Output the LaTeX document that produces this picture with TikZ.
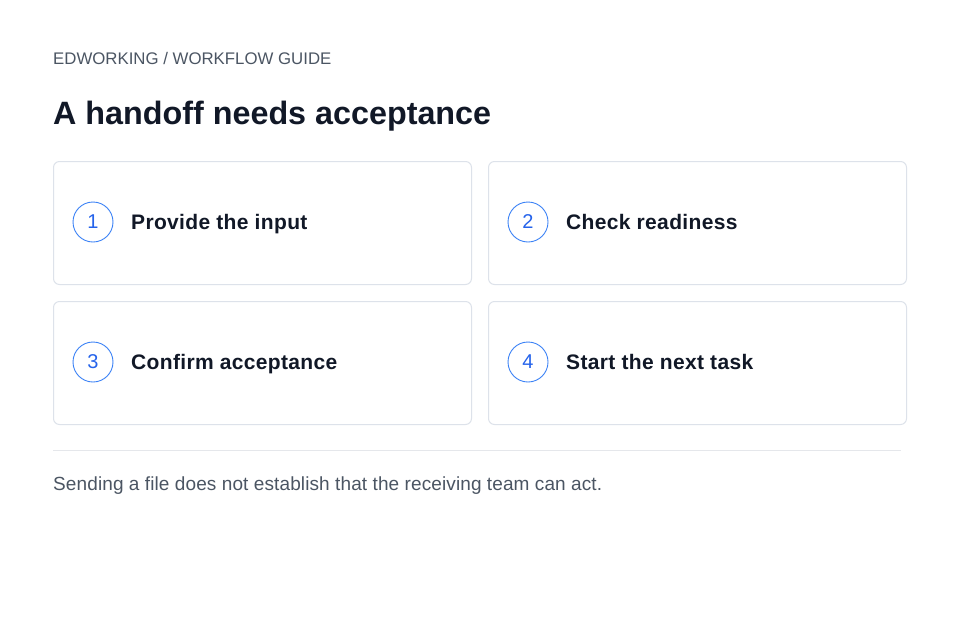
\documentclass[tikz,border=0pt]{standalone}
\usepackage{fontspec}
\setmainfont{Liberation Sans}
\usepackage{tikz}
\definecolor{inkdark}{HTML}{111827}
\definecolor{inkgray}{HTML}{4B5563}
\definecolor{cardline}{HTML}{DDE2EA}
\definecolor{ruleline}{HTML}{E5E7EB}
\definecolor{stepblue}{HTML}{2563EB}
\definecolor{ringblue}{HTML}{3B82F6}
\tikzstyle{card}=[draw=cardline,line width=1pt,rounded corners=6pt,fill=white,anchor=north west,minimum width=418pt,minimum height=123pt,inner sep=0pt]
\tikzstyle{badge}=[circle,draw=ringblue,line width=0.9pt,minimum size=40pt,inner sep=0pt,text=stepblue,font=\fontsize{20}{24}\selectfont]
\tikzstyle{steptext}=[anchor=base west,inner sep=0pt,text=inkdark,font=\fontsize{21}{25}\selectfont\bfseries\addfontfeature{LetterSpace=1.6}]
\newcommand{\step}[4]{%
	\node [card] (card#1) at (#2,#3) {};
	\node [badge] (badge#1) at ([shift={(40pt,-61pt)}]card#1.north west) {\raisebox{-1pt}{#1}};
	\node [steptext] (label#1) at ([shift={(78pt,-68pt)}]card#1.north west) {#4};
}
\begin{document}
\begin{tikzpicture}[x=1pt,y=-1pt]
	\useasboundingbox [fill=white] (0,0) rectangle (960,640);
	% % % % % % % % % % % % % % % % %
	\node [anchor=base west,inner sep=0pt,text=inkgray,font=\fontsize{16.8}{20}\selectfont] (kicker) at (53,64) {EDWORKING / WORKFLOW GUIDE};
	\node [anchor=base west,inner sep=0pt,text=inkdark,font=\fontsize{32.3}{38}\selectfont\bfseries] (title) at (53,124) {A handoff needs acceptance};
	%*********************
	\step{1}{53}{161}{Provide the input}
	\step{2}{488}{161}{Check readiness}
	\step{3}{53}{301}{Confirm acceptance}
	\step{4}{488}{301}{Start the next task}
	%*********************
	\coordinate (r1) at (53,450);
	\coordinate (r2) at (901,450);
	\draw [ruleline,line width=1pt] (r1) -- (r2);
	\node [anchor=base west,inner sep=0pt,text=inkgray,font=\fontsize{19}{23}\selectfont\addfontfeature{LetterSpace=0.6}] (note) at (53,490) {Sending a file does not establish that the receiving team can act.};
\end{tikzpicture}
\end{document}
